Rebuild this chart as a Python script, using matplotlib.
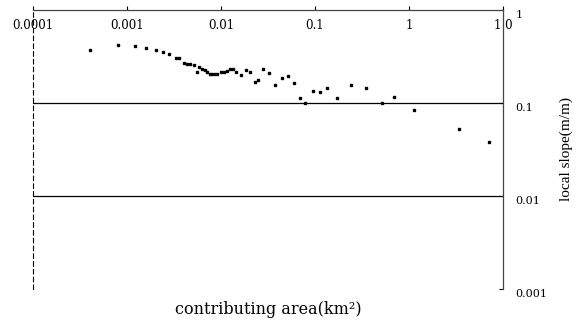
import numpy as np
import matplotlib
matplotlib.use("Agg")
import matplotlib.pyplot as plt
from matplotlib.ticker import FixedLocator, FixedFormatter, NullLocator

# contributing area (km^2) vs local slope (m/m)
area = [0.000403, 0.000796, 0.00122, 0.00159, 0.00204, 0.00240, 0.00278, 0.00332,
        0.00360, 0.00404, 0.00435, 0.00468, 0.00516, 0.00556, 0.00587, 0.00628,
        0.00676, 0.00718, 0.00759, 0.00813, 0.00863, 0.00918, 0.0100, 0.01077,
        0.0116, 0.01248, 0.01343, 0.01462, 0.01644, 0.01857, 0.0206, 0.0230,
        0.0251, 0.0280, 0.0327, 0.0375, 0.0443, 0.0516, 0.0603, 0.0687,
        0.0784, 0.0947, 0.113, 0.133, 0.174, 0.240, 0.349, 0.520,
        0.692, 1.14, 3.40, 7.15]
slope = [0.369, 0.417, 0.407, 0.393, 0.374, 0.356, 0.334, 0.307,
         0.303, 0.266, 0.264, 0.261, 0.254, 0.214, 0.241, 0.234,
         0.224, 0.217, 0.207, 0.204, 0.204, 0.204, 0.217, 0.214,
         0.221, 0.229, 0.229, 0.217, 0.201, 0.225, 0.216, 0.167,
         0.175, 0.230, 0.212, 0.155, 0.186, 0.195, 0.164, 0.114,
         0.101, 0.136, 0.130, 0.146, 0.112, 0.155, 0.145, 0.101,
         0.115, 0.0835, 0.0525, 0.0378]

xticks = [0.0001, 0.001, 0.01, 0.1, 1, 10]
xticklabels = ['0.0001', '0.001', '0.01', '0.1', '1', '1 0']
yticks = [0.001, 0.01, 0.1, 1]
yticklabels = ['0.001', '0.01', '0.1', '1']
gridlines = [0.1, 0.01]

plt.rcParams['font.family'] = ['DejaVu Serif']

fig = plt.figure(figsize=(5.84, 3.2), dpi=100)
ax = fig.add_axes([0.0565, 0.097, 0.8045, 0.872])

ax.set_xscale('log')
ax.set_yscale('log')
ax.set_xlim(0.0001, 10)
ax.set_ylim(0.001, 1)

for g in gridlines:
    ax.axhline(g, color='black', lw=0.9, zorder=1)

ax.plot(area, slope, ls='none', marker='s', ms=2, color='black', zorder=3)

ax.xaxis.set_major_locator(FixedLocator(xticks))
ax.xaxis.set_major_formatter(FixedFormatter(xticklabels))
ax.xaxis.set_minor_locator(NullLocator())
ax.yaxis.set_major_locator(FixedLocator(yticks))
ax.yaxis.set_major_formatter(FixedFormatter(yticklabels))
ax.yaxis.set_minor_locator(NullLocator())

ax.xaxis.tick_top()
ax.tick_params(axis='x', direction='out', length=3, width=0.8, pad=-19, labelsize=8.5)
ax.yaxis.tick_right()
ax.tick_params(axis='y', direction='in', length=3, width=0.8, pad=9, labelsize=8)
for t in ax.get_yticklabels():
    t.set_va('top')

ax.spines['bottom'].set_visible(False)
ax.spines['left'].set_linestyle((0, (4, 3)))
ax.spines['left'].set_linewidth(0.8)
ax.spines['top'].set_linewidth(0.9)
ax.spines['right'].set_linewidth(0.9)
ax.spines['top'].set_color('#444444')
ax.spines['right'].set_color('#444444')

ax.xaxis.set_label_position('bottom')
ax.set_xlabel('contributing area(km\u00b2)', fontsize=11.5, labelpad=9)
ax.yaxis.set_label_position('right')
ax.set_ylabel('local slope(m/m)', family=['Liberation Serif'], fontsize=11, labelpad=9)

fig.savefig('out.png', dpi=100)
